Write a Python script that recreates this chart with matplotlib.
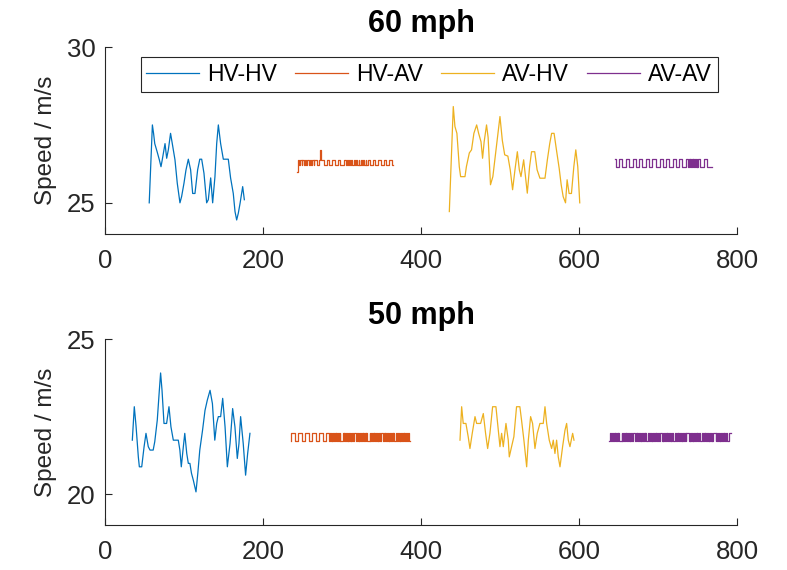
import matplotlib
matplotlib.use('Agg')
import matplotlib.pyplot as plt

plt.rcParams['font.family'] = ['Liberation Sans', 'DejaVu Sans']

# ---------------- data ----------------
labels = ['HV-HV', 'HV-AV', 'AV-HV', 'AV-AV']
colors = ['#0072BD', '#D95319', '#EDB120', '#7E2F8E']
x_ticks = [0, 200, 400, 600, 800]

# 60 mph : HV-HV
top_hvhv_x = [56, 60, 61.5, 63, 66, 68.8, 70.9, 72.5, 76, 78.1, 80.2, 83, 85.2, 88.6, 91.5,
              94.9, 97, 100, 102.5, 105.5, 108.4, 111, 113.9, 117.3, 120, 122.4, 125.3, 128.7,
              130.8, 133.8, 136.3, 139.2, 141.4, 143.5, 146.4, 149.8, 156.1, 159, 162.4, 164.6,
              166.7, 168.8, 171.1, 174.3, 176.4]
top_hvhv_y = [25.0, 27.5, 27.23, 26.9, 26.64, 26.38, 26.16, 26.38, 26.9, 26.43, 26.7, 27.23, 26.9,
              26.38, 25.63, 25.0, 25.2, 25.63, 26.05, 26.4, 26.06, 25.3, 25.3, 26.06, 26.4, 26.4,
              25.95, 25.0, 25.1, 25.8, 25.0, 25.84, 26.9, 27.5, 26.9, 26.4, 26.4, 25.8, 25.3,
              24.72, 24.45, 24.67, 25.0, 25.52, 25.1]

# 60 mph : AV-HV
top_avhv_x = [435.9, 440.9, 443, 445.5, 448.5, 450.2, 455.7, 457.5, 461.2, 464, 467, 470.5, 473,
              476, 478, 480, 483, 485, 488, 491, 495, 500, 503, 506, 510, 513, 516, 519, 522,
              524.5, 526.6, 530, 534.6, 537.5, 540, 544, 547, 550.6, 557, 560, 563, 565.4, 568.5,
              571.5, 575, 577.5, 580, 583, 585, 587.5, 590.5, 593.5, 596, 598.5, 601]
top_avhv_y = [24.72, 28.09, 27.45, 27.23, 26.16, 25.84, 25.84, 26.16, 26.6, 26.7, 27.23, 27.5,
              27.23, 26.96, 26.43, 26.96, 27.5, 27.1, 25.58, 25.84, 26.7, 27.77, 27.0, 26.54,
              26.5, 26.06, 25.42, 26.06, 26.64, 26.06, 25.84, 26.38, 25.31, 26.16, 26.64, 26.64,
              26.06, 25.79, 25.79, 26.38, 26.9, 27.23, 27.23, 26.7, 26.1, 25.58, 25.2, 25.0,
              25.74, 25.3, 25.3, 26.16, 26.7, 26.16, 25.0]

# 60 mph : HV-AV (square wave: switch points and levels)
top_hvav_sw = [243, 244, 246, 247, 249, 250, 252, 253, 255, 256, 258, 259, 261, 262, 264, 265,
               268, 271, 272, 273, 277, 281, 284, 288, 291, 295, 298, 302, 305, 306, 307, 309,
               310, 312, 313, 315, 316, 318, 319, 321, 322, 324, 325, 327, 328, 330, 331, 333,
               335, 339, 342, 346, 349, 353, 356, 360, 363]
top_hvav_lv = [26.0, 26.38, 26.2, 26.38, 26.2, 26.38, 26.2, 26.38, 26.2, 26.38, 26.2, 26.38,
               26.2, 26.38, 26.2, 26.38, 26.2, 26.38, 26.7, 26.38, 26.2, 26.38, 26.2, 26.38,
               26.2, 26.38, 26.2, 26.38, 26.2, 26.38, 26.2, 26.38, 26.2, 26.38, 26.2, 26.38,
               26.2, 26.38, 26.2, 26.38, 26.2, 26.38, 26.2, 26.38, 26.2, 26.38, 26.2, 26.38,
               26.2, 26.38, 26.2, 26.38, 26.2, 26.38, 26.2, 26.38, 26.2]
top_hvav_end = 365

# 60 mph : AV-AV (square wave between two levels, alternating at switch points)
top_avav_levels = (26.4, 26.15)
top_avav_sw = [645, 647, 651, 655, 659, 663, 668, 672, 676, 680, 685, 689, 693, 697, 702, 706,
               710, 714, 719, 723, 727, 731, 736, 738, 739, 740, 741, 742, 743, 744, 745, 746,
               747, 748, 749, 750, 751, 753, 758, 762]
top_avav_end = 768

# 50 mph : HV-HV
bot_hvhv_x = [34.6, 37.1, 39.3, 42.2, 43.5, 46.5, 49.5, 51.9, 54.8, 57, 61, 63, 66.2, 68.8, 70.4,
              72.2, 74.7, 78, 81, 83.5, 86.5, 92.8, 94.8, 96.6, 99.2, 101, 103.5, 105.5, 107.5,
              109.5, 111.8, 115.2, 117.5, 120, 123.5, 126.6, 129.5, 133, 136, 139, 141.4, 143.5,
              146.4, 149, 152, 154.9, 158.3, 161.6, 164.5, 167.5, 169.6, 171.7, 175, 178, 180.6,
              183.5]
bot_hvhv_y = [21.74, 22.82, 22.2, 21.2, 20.88, 20.88, 21.53, 21.96, 21.53, 21.42, 21.42, 21.69,
              22.39, 23.35, 23.91, 23.35, 22.28, 22.28, 22.82, 22.17, 21.74, 21.74, 21.42, 20.88,
              21.53, 21.96, 21.31, 20.99, 20.99, 20.67, 20.45, 20.07, 20.67, 21.42, 22.06, 22.7,
              23.03, 23.35, 22.92, 21.74, 22.28, 22.5, 22.5, 23.09, 22.17, 20.88, 21.63, 22.76,
              22.17, 21.15, 21.63, 22.5, 21.63, 20.61, 21.31, 21.96]

# 50 mph : AV-HV
bot_avhv_x = [449.4, 451.5, 453.5, 456.9, 459.8, 462, 464.9, 468.4, 470.5, 475.5, 478.9, 481.8,
              484.4, 487.3, 490.7, 494.9, 496.6, 500, 502.1, 504.2, 507.6, 510.5, 511.8, 514.7,
              517.6, 521, 525.2, 527.3, 530.3, 533.8, 535.9, 538.8, 541.3, 544.3, 547.2, 550.6,
              554.8, 557, 559.1, 562.4, 565.4, 567.5, 569.6, 571.7, 573.8, 576, 579.3, 582.3,
              584.4, 586.5, 588.6, 592, 593.7]
bot_avhv_y = [21.74, 22.82, 22.28, 22.28, 21.85, 21.47, 21.96, 22.5, 22.28, 22.28, 22.6, 21.96,
              21.47, 21.96, 22.82, 22.82, 22.39, 21.53, 21.96, 21.53, 22.28, 21.74, 21.2, 21.53,
              21.85, 22.82, 22.82, 22.39, 21.74, 20.88, 21.74, 22.5, 22.28, 21.47, 21.96, 22.28,
              22.28, 22.82, 22.28, 21.74, 21.47, 21.74, 21.31, 21.74, 21.2, 20.88, 21.53, 22.06,
              22.28, 21.74, 21.53, 21.96, 21.74]

# 50 mph : HV-AV (square wave)
bot_hvav_levels = (21.72, 21.97)
bot_hvav_sw = [235, 236, 240, 244, 249, 253, 258, 262, 267, 271, 276, 280,
               284, 285, 286, 287, 288, 289, 290, 291, 292, 293, 294, 295, 296, 297, 298,
               301, 302, 303, 304, 305, 306, 307, 308, 309, 310, 311, 312, 313, 314, 315,
               318, 319, 320, 321, 322, 323, 324, 325, 326, 327, 328, 329, 330, 331, 332,
               335, 336, 337, 338, 339, 340, 341, 342, 343, 344, 345, 346, 347, 348, 349,
               352, 353, 354, 355, 356, 357, 358, 359, 360, 361, 362, 363, 364, 365, 366,
               369, 370, 371, 372, 373, 374, 375, 376, 377, 378, 379, 380, 381, 382, 383, 385]
bot_hvav_end = 386

# 50 mph : AV-AV (square wave)
bot_avav_levels = (21.72, 21.97)
bot_avav_sw = [638, 639,
               641, 642, 643, 644, 645, 646, 647, 648, 649, 650, 651,
               654, 655, 656, 657, 658, 659, 660, 661, 662, 663, 664, 665, 666, 667, 668,
               671, 672, 673, 674, 675, 676, 677, 678, 679, 680, 681, 682, 683, 684, 685,
               688, 689, 690, 691, 692, 693, 694, 695, 696, 697, 698, 699, 700, 701, 702,
               705, 706, 707, 708, 709, 710, 711, 712, 713, 714, 715, 716, 717, 718, 719,
               722, 723, 724, 725, 726, 727, 728, 729, 730, 731, 732, 733, 734, 735, 736,
               739, 740, 741, 742, 743, 744, 745, 746, 747, 748, 749, 750, 751, 752, 753,
               756, 757, 758, 759, 760, 761, 762, 763, 764, 765, 766, 767, 768, 769, 770,
               773, 774, 775, 776, 777, 778, 779, 780, 781, 782, 783, 784, 785, 786, 787, 790]
bot_avav_end = 792


def step_xy(sw, lv, end):
    return list(sw) + [end], list(lv) + [lv[-1]]


def alternate(sw, levels):
    return [levels[i % 2] for i in range(len(sw))]


# ---------------- figure ----------------
axcol = '#262626'
fig = plt.figure(figsize=(7.87, 5.70), dpi=100)
ax1 = fig.add_axes([0.1334, 0.5895, 0.803, 0.328])
ax2 = fig.add_axes([0.1334, 0.0789, 0.803, 0.326])

lw = 0.9
ax1.plot(top_hvhv_x, top_hvhv_y, color=colors[0], lw=lw, label=labels[0])
xs, ys = step_xy(top_hvav_sw, top_hvav_lv, top_hvav_end)
ax1.step(xs, ys, where='post', color=colors[1], lw=lw, label=labels[1])
ax1.plot(top_avhv_x, top_avhv_y, color=colors[2], lw=lw, label=labels[2])
xs, ys = step_xy(top_avav_sw, alternate(top_avav_sw, top_avav_levels), top_avav_end)
ax1.step(xs, ys, where='post', color=colors[3], lw=lw, label=labels[3])

ax2.plot(bot_hvhv_x, bot_hvhv_y, color=colors[0], lw=lw)
xs, ys = step_xy(bot_hvav_sw, alternate(bot_hvav_sw, bot_hvav_levels), bot_hvav_end)
ax2.step(xs, ys, where='post', color=colors[1], lw=lw)
ax2.plot(bot_avhv_x, bot_avhv_y, color=colors[2], lw=lw)
xs, ys = step_xy(bot_avav_sw, alternate(bot_avav_sw, bot_avav_levels), bot_avav_end)
ax2.step(xs, ys, where='post', color=colors[3], lw=lw)

for ax, title, ylim, yt in [(ax1, '60 mph', (24, 30), [25, 30]),
                            (ax2, '50 mph', (19, 25), [20, 25])]:
    ax.set_xlim(0, 800)
    ax.set_ylim(*ylim)
    ax.set_xticks(x_ticks)
    ax.set_yticks(yt)
    ax.spines['top'].set_visible(False)
    ax.spines['right'].set_visible(False)
    for s in ['left', 'bottom']:
        ax.spines[s].set_color(axcol)
        ax.spines[s].set_linewidth(0.8)
    ax.tick_params(direction='in', length=5, width=0.8, colors=axcol,
                   labelsize=18.5)
    ax.tick_params(axis='x', pad=11)
    ax.tick_params(axis='y', pad=7)
    ax.set_ylabel('Speed / m/s', fontsize=17.5, color=axcol, labelpad=7)
    ax.set_title(title, fontsize=22, fontweight='bold', color='black', pad=11)

leg = ax1.legend(loc='upper center', bbox_to_anchor=(0.513, 0.945), ncol=4,
                 fontsize=16.5, frameon=True, fancybox=False, handlelength=2.3,
                 handletextpad=0.35, columnspacing=0.8, borderpad=0.25,
                 borderaxespad=0.0)
leg.get_frame().set_edgecolor(axcol)
leg.get_frame().set_linewidth(0.8)
leg.get_frame().set_alpha(1)

fig.savefig('out.png', dpi=100)
